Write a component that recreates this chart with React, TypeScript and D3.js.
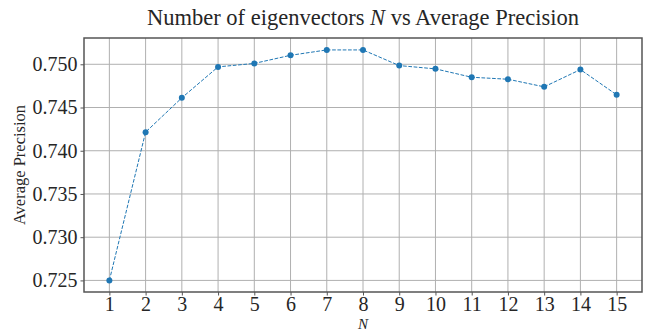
import { useEffect, useRef } from 'react'
import * as d3 from 'd3'

const N_VALUES = [1, 2, 3, 4, 5, 6, 7, 8, 9, 10, 11, 12, 13, 14, 15]
const PRECISION = [0.725, 0.74215, 0.74612, 0.7497, 0.7501, 0.75104, 0.75166, 0.75166, 0.74985, 0.74947, 0.7485, 0.74827, 0.74739, 0.74939, 0.74647]
const Y_TICKS = [0.725, 0.730, 0.735, 0.740, 0.745, 0.750]

const W = 647
const H = 332
const FONT = '"Liberation Serif", "DejaVu Serif", serif'

export default function App() {
  const svgRef = useRef<SVGSVGElement>(null)

  useEffect(() => {
    const svg = d3.select(svgRef.current)
    svg.selectAll('*').remove()

    const margin = { top: 38, right: 5, bottom: 40, left: 84 }
    const iw = W - margin.left - margin.right
    const ih = H - margin.top - margin.bottom

    const x = d3.scaleLinear().domain([0.3, 15.7]).range([0, iw])
    const y = d3.scaleLinear().domain([0.72366, 0.75304]).range([ih, 0])

    const g = svg.append('g').attr('transform', `translate(${margin.left},${margin.top})`)

    // grid
    g.append('g').selectAll('line').data(N_VALUES).join('line')
      .attr('x1', d => x(d)).attr('x2', d => x(d)).attr('y1', 0).attr('y2', ih)
      .attr('stroke', '#b0b0b0').attr('stroke-width', 1)
    g.append('g').selectAll('line').data(Y_TICKS).join('line')
      .attr('x1', 0).attr('x2', iw).attr('y1', d => y(d)).attr('y2', d => y(d))
      .attr('stroke', '#b0b0b0').attr('stroke-width', 1)

    // axes
    g.append('g').attr('transform', `translate(0,${ih})`)
      .call(d3.axisBottom(x).tickValues(N_VALUES).tickFormat(d => String(d)).tickSize(3.5).tickPadding(1))
      .call(gg => {
        gg.select('.domain').remove()
        gg.selectAll('.tick line').attr('stroke', '#555')
        gg.selectAll('.tick text').attr('fill', '#262626').attr('font-size', '20px').attr('font-family', FONT)
      })
    g.append('g')
      .call(d3.axisLeft(y).tickValues(Y_TICKS).tickFormat(d3.format('.3f')).tickSize(3.5).tickPadding(3))
      .call(gg => {
        gg.select('.domain').remove()
        gg.selectAll('.tick line').attr('stroke', '#555')
        gg.selectAll('.tick text').attr('fill', '#262626').attr('font-size', '20px').attr('font-family', FONT)
      })

    // frame
    g.append('rect').attr('x', 0).attr('y', 0).attr('width', iw).attr('height', ih)
      .attr('fill', 'none').attr('stroke', '#555').attr('stroke-width', 1.5)

    // line
    const pts = N_VALUES.map((n, i) => ({ n, v: PRECISION[i] }))
    const line = d3.line<{ n: number; v: number }>().x(d => x(d.n)).y(d => y(d.v))
    g.append('path').datum(pts)
      .attr('fill', 'none').attr('stroke', '#1f77b4').attr('stroke-width', 1)
      .attr('stroke-dasharray', '3.7,1.6').attr('d', line)
    g.selectAll('circle').data(pts).join('circle')
      .attr('cx', d => x(d.n)).attr('cy', d => y(d.v)).attr('r', 3)
      .attr('fill', '#1f77b4')

    // labels
    svg.append('text').attr('x', margin.left + iw / 2).attr('y', 25)
      .attr('text-anchor', 'middle').attr('font-family', FONT).attr('font-size', '22.5px').attr('fill', '#262626')
      .call(t => {
        t.append('tspan').text('Number of eigenvectors ')
        t.append('tspan').attr('font-style', 'italic').text('N')
        t.append('tspan').text(' vs Average Precision')
      })
    svg.append('text').attr('transform', `translate(25,${margin.top + ih / 2}) rotate(-90)`)
      .attr('text-anchor', 'middle').attr('font-family', FONT).attr('font-size', '16.5px').attr('fill', '#262626')
      .text('Average Precision')
    svg.append('text').attr('x', margin.left + iw / 2).attr('y', 328.5)
      .attr('text-anchor', 'middle').attr('font-family', FONT).attr('font-size', '15px').attr('font-style', 'italic').attr('fill', '#262626')
      .text('N')
  }, [])

  return (
    <div style={{ position: 'absolute', left: 0, top: 0 }}>
      <svg ref={svgRef} width={W} height={H} style={{ display: 'block', background: '#fff' }} />
    </div>
  )
}
